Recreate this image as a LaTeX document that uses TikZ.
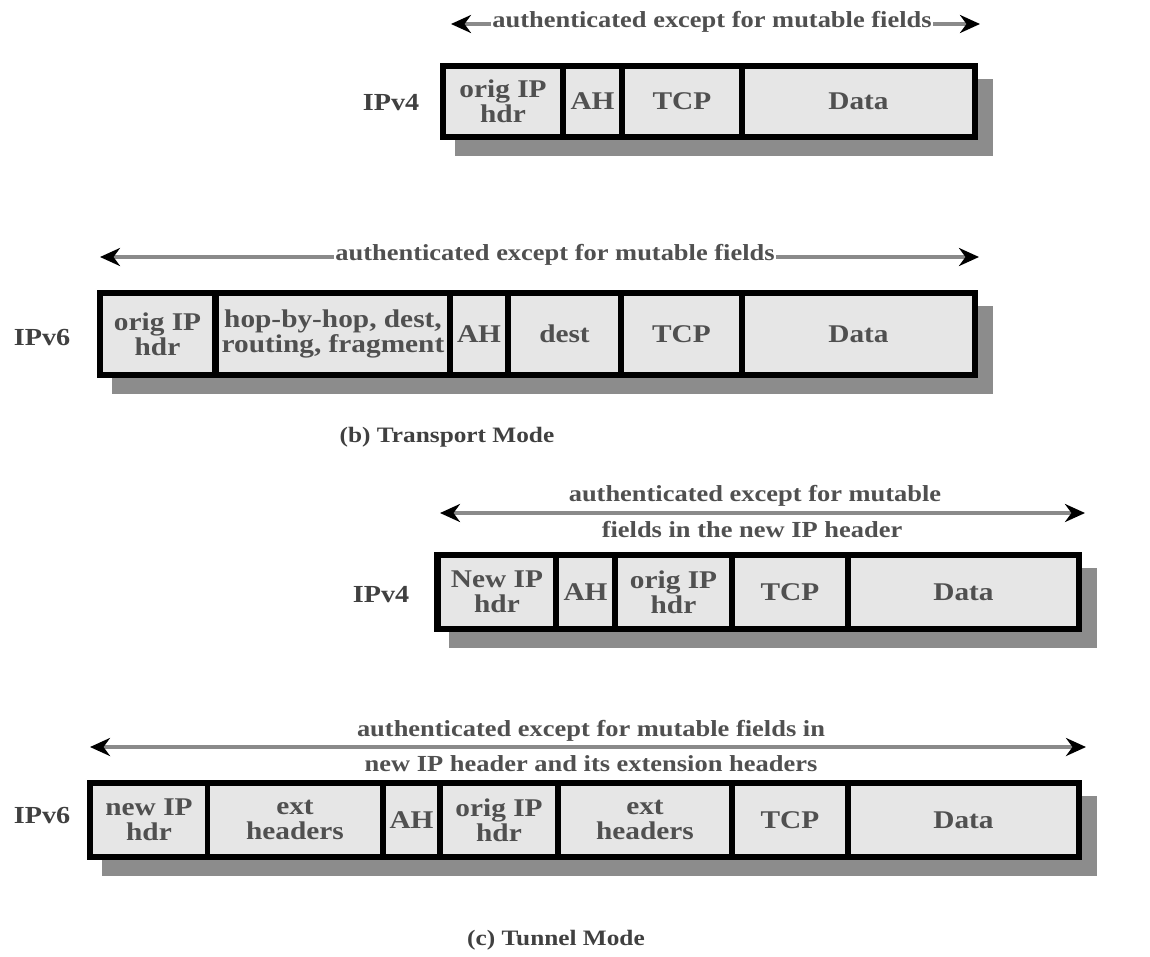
\documentclass[tikz,border=0pt]{standalone}
\usepackage{fontspec}
\setmainfont{Liberation Serif}[FakeStretch=1.15]
\usetikzlibrary{arrows.meta}
\definecolor{cellgray}{HTML}{E6E6E6}
\definecolor{shadowgray}{HTML}{8C8C8C}
\definecolor{linegray}{HTML}{8A8A8A}
\definecolor{txtgray}{HTML}{505050}
\newcommand\celltxt{\fontsize{25.5}{25}\selectfont\bfseries}
\newcommand\lbltxt{\fontsize{23}{24}\selectfont\bfseries}
\newcommand\rowtxt{\fontsize{24.5}{25}\selectfont\bfseries}
\newcommand\captxt{\fontsize{22}{24}\selectfont\bfseries}
\newcommand\mkcell[6]{%
  \pgfmathsetmacro\cw{#3-#2}\pgfmathsetmacro\ch{#5-#4}%
  \pgfmathsetmacro\cx{(#2+#3)/2}\pgfmathsetmacro\cy{(#4+#5)/2}%
  \node[cell,minimum width=\cw pt,minimum height=\ch pt] (#1) at (\cx,\cy) {#6};}
\newcommand\mkframe[5]{%
  \pgfmathsetmacro\cw{#3-#2}\pgfmathsetmacro\ch{#5-#4}%
  \pgfmathsetmacro\cx{(#2+#3)/2}\pgfmathsetmacro\cy{(#4+#5)/2}%
  \node[shadowbox,minimum width=\cw pt,minimum height=\ch pt] (#1s) at (\cx+15,\cy+16) {};
  \node[framebox,minimum width=\cw pt,minimum height=\ch pt] (#1) at (\cx,\cy) {};}
\begin{document}
\begin{tikzpicture}[x=1pt,y=-1pt,
  cell/.style={fill=cellgray,draw=none,inner sep=0pt,align=center,text=txtgray,font=\celltxt},
  framebox/.style={fill=black,draw=none,inner sep=0pt},
  shadowbox/.style={fill=shadowgray,draw=none,inner sep=0pt},
  authline/.style={draw=linegray,line width=4pt,{Stealth[length=20pt,width=18pt,black]}-{Stealth[length=20pt,width=18pt,black]}},
  authlbl/.style={text=txtgray,font=\lbltxt,inner sep=1pt},
  rowlbl/.style={text=txtgray!80!black,font=\rowtxt},
  caption/.style={text=txtgray!80!black,font=\captxt}]
\useasboundingbox[fill=white] (0,0) rectangle (1150,956);

% ---------- Row A: transport IPv4 ----------
\coordinate (aL) at (451,24); \coordinate (aR) at (980,24);
\draw[authline] (aL) -- (aR);
\node[authlbl,fill=white] (aT) at (712,22) {authenticated except for mutable fields};
\node[rowlbl] (aIP) at (391,103) {IPv4};
\mkframe{aF}{440}{978}{63}{140}
\mkcell{a1}{446}{560}{69}{134}{orig IP\\hdr}
\mkcell{a2}{566}{619}{69}{134}{AH}
\mkcell{a3}{625}{739}{69}{134}{TCP}
\mkcell{a4}{745}{972}{69}{134}{Data}

% ---------- Row B: transport IPv6 ----------
\coordinate (bL) at (100,257); \coordinate (bR) at (979,257);
\draw[authline] (bL) -- (bR);
\node[authlbl,fill=white] (bT) at (555,255) {authenticated except for mutable fields};
\node[rowlbl] (bIP) at (42,338) {IPv6};
\mkframe{bF}{97}{978}{290}{378}
\mkcell{b1}{103}{212}{296}{372}{orig IP\\hdr}
\mkcell{b2}{219}{447}{296}{372}{hop-by-hop, dest,\\routing, fragment}
\mkcell{b3}{453}{505}{296}{372}{AH}
\mkcell{b4}{511}{618}{296}{372}{dest}
\mkcell{b5}{624}{739}{296}{372}{TCP}
\mkcell{b6}{745}{972}{296}{372}{Data}
\node[caption] (bCap) at (447,437) {(b) Transport Mode};

% ---------- Row C: tunnel IPv4 ----------
\coordinate (cL) at (440,513); \coordinate (cR) at (1085,513);
\draw[authline] (cL) -- (cR);
\node[authlbl] (cT1) at (755,496) {authenticated except for mutable};
\node[authlbl] (cT2) at (752,530) {fields in the new IP header};
\node[rowlbl] (cIP) at (381,595) {IPv4};
\mkframe{cF}{434}{1082}{552}{632}
\mkcell{c1}{441}{553}{558}{626}{New IP\\hdr}
\mkcell{c2}{559}{612}{558}{626}{AH}
\mkcell{c3}{618}{729}{558}{626}{orig IP\\hdr}
\mkcell{c4}{735}{845}{558}{626}{TCP}
\mkcell{c5}{851}{1076}{558}{626}{Data}

% ---------- Row D: tunnel IPv6 ----------
\coordinate (dL) at (90,747); \coordinate (dR) at (1086,747);
\draw[authline] (dL) -- (dR);
\node[authlbl] (dT1) at (591,731) {authenticated except for mutable fields in};
\node[authlbl] (dT2) at (591,764) {new IP header and its extension headers};
\node[rowlbl] (dIP) at (42,815) {IPv6};
\mkframe{dF}{87}{1082}{780}{860}
\mkcell{d1}{93}{205}{786}{854}{new IP\\hdr}
\mkcell{d2}{210}{380}{786}{854}{ext\\headers}
\mkcell{d3}{386}{437}{786}{854}{AH}
\mkcell{d4}{443}{555}{786}{854}{orig IP\\hdr}
\mkcell{d5}{561}{729}{786}{854}{ext\\headers}
\mkcell{d6}{735}{845}{786}{854}{TCP}
\mkcell{d7}{851}{1076}{786}{854}{Data}
\node[caption] (dCap) at (556,940) {(c) Tunnel Mode};
\end{tikzpicture}
\end{document}
